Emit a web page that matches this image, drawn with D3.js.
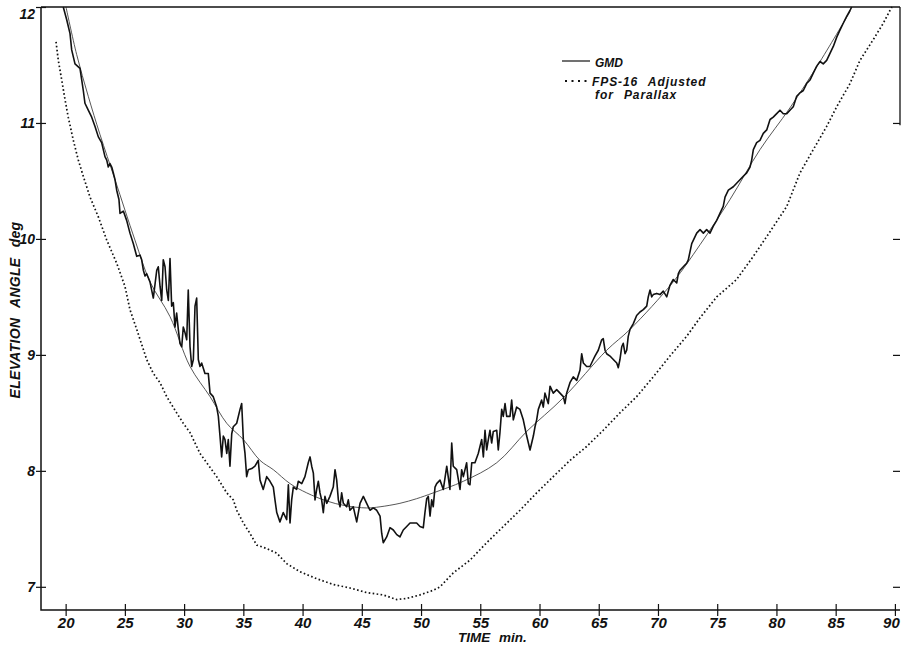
<!DOCTYPE html>
<html><head><meta charset="utf-8">
<script src="https://cdn.jsdelivr.net/npm/d3@7"></script>
<style>
body{margin:0;background:#fff}
svg{display:block}
text{font-family:"Liberation Sans",Arial,sans-serif;font-weight:bold;font-style:italic;fill:#111}
</style></head>
<body><svg id="c" width="901" height="648"></svg>
<script>
// ---- data (time in min, elevation angle in deg) ----
const xTicks = [20,25,30,35,40,45,50,55,60,65,70,75,80,85,90];
const yTicks = [7,8,9,10,11,12];
const legendLabels = ["GMD","FPS-16 Adjusted","for Parallax"];

const gmd = [[19.80,12.00],[20.09,11.89],[20.37,11.77],[20.51,11.63],[20.79,11.51],[21.21,11.47],[21.36,11.37],[21.49,11.28],[21.63,11.17],[21.91,11.11],[22.20,11.05],[22.48,10.97],[22.76,10.88],[23.04,10.83],[23.18,10.77],[23.32,10.71],[23.47,10.68],[23.60,10.62],[23.74,10.65],[23.89,10.62],[24.02,10.57],[24.17,10.51],[24.31,10.42],[24.50,10.34],[24.59,10.22],[24.87,10.24],[25.15,10.16],
[25.43,10.05],[25.71,9.96],[26.00,9.85],[26.28,9.86],[26.42,9.82],[26.56,9.73],[26.70,9.68],[26.84,9.70],[27.12,9.63],[27.40,9.49],[27.69,9.73],[27.82,9.76],[27.97,9.59],[28.11,9.47],[28.24,9.82],[28.39,9.76],[28.53,9.56],[28.67,9.47],[28.81,9.83],[28.95,9.42],[29.09,9.45],[29.23,9.24],[29.37,9.36],[29.51,9.22],[29.65,9.10],[29.80,9.07],[29.93,9.24],[30.08,9.19],[30.22,9.13],[30.35,9.56],[30.50,9.07],[30.64,8.90],[30.78,8.96],[30.92,9.42],[31.06,9.49],[31.20,8.96],[31.34,8.90],[31.48,8.93],[31.76,8.84],[32.04,8.84],[32.19,8.67],[32.46,8.64],[32.75,8.55],[32.89,8.47],[33.03,8.30],[33.17,8.12],[33.31,8.30],[33.45,8.27],[33.60,8.15],[33.73,8.27],[33.87,8.04],[34.02,8.32],[34.15,8.38],[34.44,8.41],[34.72,8.53],[34.86,8.58],[35.00,8.27],[35.14,8.15],[35.28,7.95],[35.42,8.01],[35.71,8.02],[35.98,8.04],[36.26,8.09],[36.41,7.92],[36.68,7.84],[36.97,7.95],[37.25,7.91],[37.53,7.86],[37.67,7.75],[37.82,7.64],[38.09,7.56],[38.37,7.64],[38.66,7.58],[38.80,7.88],[38.94,7.55],[39.08,7.75],[39.22,7.86],[39.50,7.84],[39.64,7.91],[39.93,7.89],[40.20,7.95],[40.48,8.07],[40.63,8.12],[40.77,8.04],[40.91,7.98],[41.05,7.75],[41.19,7.84],[41.33,7.91],[41.47,7.81],[41.61,7.75],[41.75,7.64],[41.89,7.78],[42.04,7.72],[42.31,7.78],[42.59,7.86],[42.74,8.01],[42.88,7.92],[43.02,7.75],[43.16,7.69],[43.30,7.81],[43.44,7.72],[43.72,7.69],[43.86,7.75],[44.00,7.66],[44.28,7.69],[44.57,7.56],[44.85,7.72],[45.13,7.78],[45.41,7.72],[45.69,7.66],[45.97,7.68],[46.26,7.66],[46.54,7.61],[46.68,7.46],[46.81,7.38],[47.10,7.43],[47.38,7.51],[47.66,7.49],[47.95,7.45],[48.22,7.43],[48.50,7.49],[48.79,7.52],[49.07,7.55],[49.63,7.55],[49.91,7.52],[50.19,7.51],[50.33,7.64],[50.48,7.76],[50.61,7.78],[50.76,7.61],[50.90,7.75],[51.03,7.69],[51.18,7.86],[51.32,7.89],
[51.60,7.92],[51.88,7.84],[52.17,8.04],[52.44,7.84],[52.59,8.24],[52.72,8.04],[53.01,8.01],[53.29,7.84],[53.43,8.01],[53.57,7.95],[53.85,8.07],[53.99,7.89],[54.13,7.88],[54.28,8.07],[54.55,8.07],[54.83,8.15],[55.12,8.27],[55.26,8.12],[55.40,8.35],[55.54,8.18],[55.68,8.27],[55.82,8.35],[55.96,8.24],[56.10,8.34],[56.39,8.35],[56.52,8.18],[56.66,8.33],[56.81,8.53],[56.94,8.47],[57.09,8.58],[57.23,8.47],[57.51,8.47],[57.65,8.61],[57.79,8.44],[58.07,8.55],[58.35,8.53],[58.63,8.44],[58.92,8.30],[59.20,8.18],[59.48,8.30],[59.62,8.38],[59.76,8.44],[59.90,8.53],[60.18,8.61],[60.32,8.55],[60.46,8.67],[60.74,8.58],[60.89,8.73],[61.16,8.67],[61.45,8.70],[61.73,8.67],[62.01,8.64],[62.15,8.58],[62.29,8.67],[62.57,8.76],[62.85,8.81],[63.14,8.78],[63.42,8.87],[63.56,9.01],[63.70,8.93],[63.98,8.90],[64.26,8.90],[64.54,8.96],[64.68,8.99],[64.96,9.04],[65.25,9.13],[65.38,9.14],[65.53,9.04],[65.67,9.01],[65.95,8.99],[66.23,8.96],[66.52,8.93],[66.65,8.89],[66.79,8.96],[66.94,9.07],[67.07,9.10],[67.22,9.01],[67.36,9.04],[67.49,9.16],[67.64,9.22],[67.92,9.27],[68.20,9.34],[68.48,9.37],[68.76,9.39],[69.05,9.42],[69.18,9.50],[69.33,9.56],[69.47,9.50],[69.60,9.52],[69.89,9.53],[70.17,9.52],[70.45,9.55],[70.74,9.50],[71.01,9.60],[71.29,9.65],[71.58,9.62],[71.72,9.70],[71.86,9.73],[72.14,9.76],[72.42,9.79],[72.56,9.82],[72.85,9.96],
[73.27,10.05],[73.55,10.08],[73.83,10.05],[74.11,10.08],[74.39,10.05],[74.67,10.11],[74.96,10.16],[75.23,10.22],[75.51,10.28],[75.66,10.36],[75.94,10.42],[76.36,10.45],[76.92,10.51],[77.20,10.54],[77.49,10.57],[77.77,10.62],[77.91,10.68],[78.05,10.77],[78.33,10.83],[78.61,10.85],[78.89,10.91],[79.18,10.94],[79.46,11.03],[79.73,11.05],[80.02,11.08],[80.30,11.11],[80.58,11.08],[80.87,11.08],[81.14,11.11],[81.42,11.14],[81.71,11.23],[81.99,11.26],[82.27,11.28],[82.55,11.34],[82.83,11.37],[83.11,11.43],[83.40,11.49],[83.68,11.53],[83.95,11.51],[84.24,11.54],[84.52,11.60],[84.80,11.66],[85.09,11.74],[85.36,11.80],[85.64,11.86],[85.93,11.92],[86.21,11.97],[86.35,12.00]];

const smoothFit = [[20.03,12.00],[20.93,11.59],[21.91,11.23],[22.90,10.90],[24.17,10.51],[25.85,9.99],[27.12,9.63],[28.81,9.33],[30.50,8.90],[32.19,8.64],[33.60,8.41],[35.00,8.27],[36.41,8.09],[37.53,8.01],[38.94,7.89],[40.35,7.81],[42.04,7.74],[43.58,7.70],[45.41,7.68],[46.54,7.69],[48.22,7.72],[49.63,7.76],[51.03,7.81],[53.57,7.91],[56.39,8.07],[58.92,8.34],[62.01,8.63],[65.67,9.04],[67.64,9.22],[71.29,9.63],[73.55,9.95],[76.08,10.34],[78.61,10.77],[81.14,11.13],[83.68,11.53],[86.21,11.96]];

const fps16 = [[19.19,11.70],[19.38,11.54],[19.67,11.37],[19.95,11.20],[20.22,11.05],[20.65,10.85],[21.07,10.68],[21.49,10.54],[22.06,10.36],[22.76,10.19],[23.47,9.99],[24.31,9.79],[25.01,9.59],[25.43,9.39],[26.00,9.22],[26.84,8.96],[27.40,8.84],[27.97,8.76],[28.53,8.64],[29.37,8.50],[29.93,8.41],[30.50,8.33],[31.34,8.15],[32.75,7.95],[33.60,7.81],[34.15,7.75],[34.44,7.66],[35.00,7.55],[35.56,7.46],[36.13,7.36],[36.97,7.33],[37.82,7.29],[38.66,7.20],[39.78,7.13],[41.19,7.07],[42.59,7.02],[44.00,6.99],[45.41,6.95],[46.81,6.93],[47.95,6.89],[48.79,6.90],[49.91,6.93],[51.03,6.97],[51.60,7.00],[52.72,7.12],[54.13,7.23],[55.54,7.38],[56.94,7.52],[58.35,7.66],[59.76,7.81],[61.16,7.95],[62.57,8.09],[63.98,8.21],[65.38,8.35],[66.79,8.50],[68.20,8.64],[69.60,8.81],[71.01,8.99],[72.42,9.16],[73.55,9.32],[74.96,9.50],[76.64,9.65],[78.05,9.85],[79.18,10.02],[80.87,10.28],[81.99,10.57],[83.11,10.77],[84.24,10.97],[85.09,11.14],[86.21,11.34],[87.05,11.54],[88.18,11.72],[89.02,11.86],[89.58,11.97],[89.75,12.00]];

// ---- chart ----
const svg = d3.select('#c');
const x = d3.scaleLinear().domain([17.92, 90.43]).range([41, 900]);
const y = d3.scaleLinear().domain([6.8, 12]).range([610, 7]);
const line = d3.line().x(d => x(d[0])).y(d => y(d[1]));

svg.append('defs').append('clipPath').attr('id','plot')
  .append('rect').attr('x',41).attr('y',6).attr('width',860).attr('height',605);
const plot = svg.append('g').attr('clip-path','url(#plot)');

plot.append('path').datum(fps16).attr('d', line)
  .attr('fill','none').attr('stroke','#111').attr('stroke-width',1.7)
  .attr('stroke-dasharray','1.6 2.4');
plot.append('path').datum(smoothFit).attr('d', line.curve(d3.curveCatmullRom))
  .attr('fill','none').attr('stroke','#444').attr('stroke-width',0.9);
line.curve(d3.curveLinear);
plot.append('path').datum(gmd).attr('d', line)
  .attr('fill','none').attr('stroke','#111').attr('stroke-width',1.6)
  .attr('stroke-linejoin','round');

// frame lines
svg.append('path').attr('d', `M${x.range()[0]},${y(12)}V${y.range()[0]}H${x.range()[1]}`)
  .attr('fill','none').attr('stroke','#111').attr('stroke-width',1.5);
svg.append('line').attr('x1',x.range()[0]).attr('x2',x.range()[1]).attr('y1',y(12)).attr('y2',y(12))
  .attr('stroke','#111').attr('stroke-width',1.5);
svg.append('line').attr('x1',x.range()[1]).attr('x2',x.range()[1]).attr('y1',y(12)).attr('y2',y(10.98))
  .attr('stroke','#111').attr('stroke-width',1.3);

// bottom axis
const gx = svg.append('g').attr('transform',`translate(0,${y.range()[0]})`)
  .call(d3.axisBottom(x).tickValues(xTicks).tickSize(6).tickPadding(1).tickFormat(d3.format('d')));
gx.select('.domain').remove();
gx.selectAll('.tick line').attr('y1',-6).attr('stroke','#111').attr('stroke-width',1.2);
gx.selectAll('.tick text').attr('font-size',15)
  .filter(d => d === 90).attr('x',-4);

// left axis
const gy = svg.append('g').attr('transform',`translate(${x.range()[0]},0)`)
  .call(d3.axisLeft(y).tickValues(yTicks).tickSize(5).tickPadding(1).tickFormat(d3.format('d')));
gy.select('.domain').remove();
gy.selectAll('.tick line').attr('x1',5).attr('stroke','#111').attr('stroke-width',1.2);
gy.selectAll('.tick text').attr('font-size',14).filter(d => d === 12).attr('y',7);

// right ticks
const gr = svg.append('g').attr('transform',`translate(${x.range()[1]},0)`)
  .call(d3.axisLeft(y).tickValues(yTicks.filter(v => v < 12)).tickSize(7).tickFormat(''));
gr.select('.domain').remove();
gr.selectAll('.tick line').attr('stroke','#111').attr('stroke-width',1.2);

// axis titles
svg.append('text').attr('x',458).attr('y',642).attr('font-size',13.5)
  .attr('word-spacing',5).text('TIME min.');
svg.append('text').attr('transform','translate(20,310) rotate(-90)')
  .attr('text-anchor','middle').attr('font-size',14)
  .attr('letter-spacing',0.3).attr('word-spacing',6).text('ELEVATION ANGLE deg');

// legend
const lg = svg.append('g');
lg.append('line').attr('x1',562).attr('x2',590).attr('y1',61).attr('y2',61)
  .attr('stroke','#111').attr('stroke-width',1.2);
lg.append('line').attr('x1',565).attr('x2',590).attr('y1',81).attr('y2',81)
  .attr('stroke','#111').attr('stroke-width',2).attr('stroke-dasharray','2 4.5');
lg.append('text').attr('x',595).attr('y',66.5).attr('font-size',12).text(legendLabels[0]);
lg.append('text').attr('x',592).attr('y',85.5).attr('font-size',12)
  .attr('letter-spacing',0.9).attr('word-spacing',6).text(legendLabels[1]);
lg.append('text').attr('x',595).attr('y',98.5).attr('font-size',12)
  .attr('letter-spacing',0.9).attr('word-spacing',6).text(legendLabels[2]);
</script></body></html>
